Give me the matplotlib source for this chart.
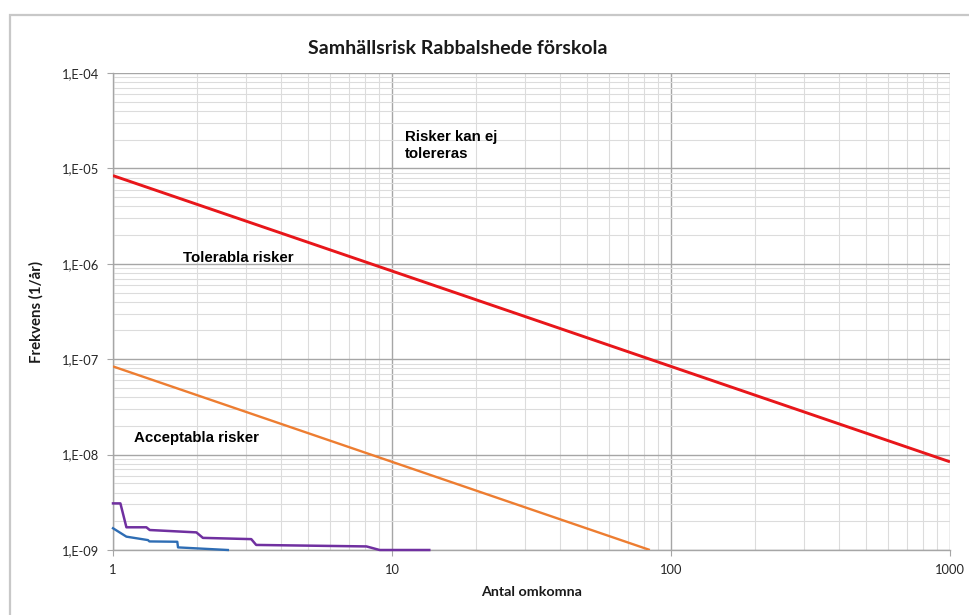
import matplotlib
matplotlib.use("Agg")
import matplotlib.pyplot as plt
from matplotlib.patches import Rectangle
from matplotlib.ticker import FixedLocator, NullFormatter, LogLocator

# ---- data ----
red_x = [1, 1000]
red_y = [8.4e-6, 8.4e-9]
orange_x = [1, 84]
orange_y = [8.4e-8, 1.0e-9]
purple_x = [1, 1.063, 1.117, 1.317, 1.354, 1.99, 2.10, 3.13, 3.26, 8.1, 9.03, 13.6]
purple_y = [3.08e-9, 3.08e-9, 1.73e-9, 1.73e-9, 1.62e-9, 1.53e-9, 1.34e-9, 1.30e-9,
            1.13e-9, 1.09e-9, 1.0e-9, 1.0e-9]
blue_x = [1, 1.117, 1.335, 1.35, 1.70, 1.71, 2.58]
blue_y = [1.69e-9, 1.38e-9, 1.27e-9, 1.23e-9, 1.22e-9, 1.065e-9, 1.0e-9]

y_ticks = [1e-9, 1e-8, 1e-7, 1e-6, 1e-5, 1e-4]
y_tick_labels = ["1,E-09", "1,E-08", "1,E-07", "1,E-06", "1,E-05", "1,E-04"]
x_ticks = [1, 10, 100, 1000]
x_tick_labels = ["1", "10", "100", "1000"]

title = "Samhällsrisk Rabbalshede förskola"
xlabel = "Antal omkomna"
ylabel = "Frekvens (1/år)"

W, H = 970, 615
fig = plt.figure(figsize=(W / 100, H / 100), dpi=100)
fig.patch.set_facecolor("white")

# outer chart border
fig.add_artist(Rectangle((10 / W, -0.05), 1.2, 1 - 15 / H + 0.05, transform=fig.transFigure,
                         fill=False, edgecolor="#c8c8c8", linewidth=1.6, zorder=0))

ax = fig.add_axes([113 / W, 1 - 550 / H, (950 - 113) / W, (550 - 73) / H])
ax.set_xscale("log")
ax.set_yscale("log")
ax.set_xlim(1, 1000)
ax.set_ylim(1e-9, 1e-4)

ax.xaxis.set_major_locator(FixedLocator(x_ticks))
ax.xaxis.set_minor_locator(LogLocator(base=10, subs=range(2, 10)))
ax.yaxis.set_major_locator(FixedLocator(y_ticks))
ax.yaxis.set_minor_locator(LogLocator(base=10, subs=range(2, 10)))
ax.set_xticklabels(x_tick_labels)
ax.set_yticklabels(y_tick_labels)
ax.xaxis.set_minor_formatter(NullFormatter())
ax.yaxis.set_minor_formatter(NullFormatter())

ax.grid(which="major", color="#a6a6a6", linewidth=1.0)
ax.grid(which="minor", color="#dcdcdc", linewidth=0.8)
ax.set_axisbelow(True)

for s in ["top", "right"]:
    ax.spines[s].set_visible(False)
for s in ["left", "bottom"]:
    ax.spines[s].set_color("#a6a6a6")
    ax.spines[s].set_linewidth(1.0)

tick_font = "Lato"
ax.tick_params(which="major", axis="y", length=4.3, color="#a6a6a6", labelsize=9.3, pad=5.5)
ax.tick_params(which="major", axis="x", length=4.3, color="#a6a6a6", labelsize=9.3, pad=5.5)
ax.tick_params(which="minor", length=0)
for lab in ax.get_xticklabels() + ax.get_yticklabels():
    lab.set_fontfamily(tick_font)
    lab.set_color("#262626")

ax.plot(red_x, red_y, color="#e8161a", linewidth=2.1, solid_capstyle="butt", zorder=3)
ax.plot(orange_x, orange_y, color="#ed7d31", linewidth=1.7, solid_capstyle="butt", zorder=3)
ax.plot(purple_x, purple_y, color="#7030a0", linewidth=1.8, zorder=4, clip_on=False)
ax.plot(blue_x, blue_y, color="#2e6db4", linewidth=1.7, zorder=4, clip_on=False)

lab_kw = dict(fontfamily="Liberation Sans", fontweight="bold", fontsize=10.8, color="black")
ax.text(11.1, 2.5e-5, "Risker kan ej\ntolereras", ha="left", va="top", linespacing=1.2, **lab_kw)
ax.text(1.78, 1.15e-6, "Tolerabla risker", ha="left", va="center", **lab_kw)
ax.text(1.187, 1.51e-8, "Acceptabla risker", ha="left", va="center", **lab_kw)

fig.text(458 / W, 1 - 48 / H, title, ha="center", va="center",
         fontfamily="Lato", fontweight="bold", fontsize=14, color="#1a1a1a")
fig.text(532 / W, 1 - 592 / H, xlabel, ha="center", va="center",
         fontfamily="Lato", fontweight="bold", fontsize=10.3, color="#1a1a1a")
fig.text(36 / W, 1 - 312 / H, ylabel, ha="center", va="center", rotation=90,
         fontfamily="Lato", fontweight="bold", fontsize=10.8, color="#1a1a1a")

fig.savefig("out.png", dpi=100)
